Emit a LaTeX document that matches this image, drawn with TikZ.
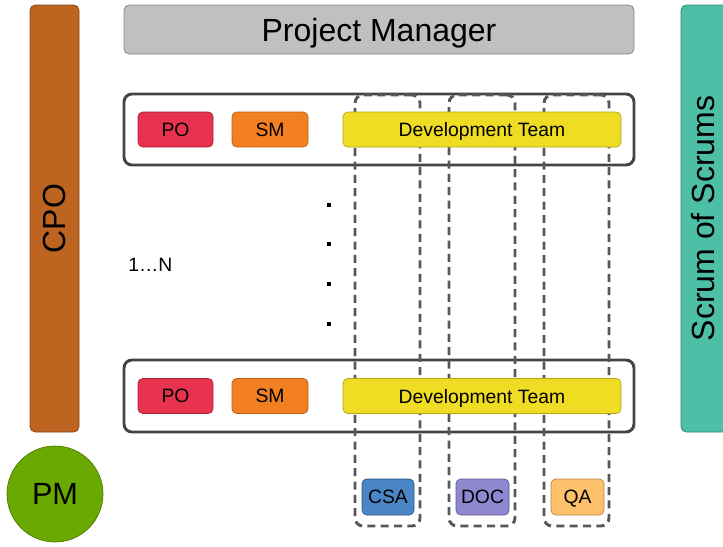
\documentclass[tikz,border=0pt]{standalone}
\usepackage{fontspec}
\setmainfont{Liberation Sans}
\usetikzlibrary{positioning}

\definecolor{cpoc}{HTML}{BD6520}
\definecolor{pmgrc}{HTML}{C0C0C0}
\definecolor{sosc}{HTML}{4CBFA6}
\definecolor{poc}{HTML}{E8334F}
\definecolor{smc}{HTML}{F28022}
\definecolor{devc}{HTML}{EEDD22}
\definecolor{csac}{HTML}{4A86C5}
\definecolor{docc}{HTML}{8E88D0}
\definecolor{qac}{HTML}{FDC06B}
\definecolor{pmc}{HTML}{6AAA00}
\definecolor{framec}{HTML}{444444}

\begin{document}
\begin{tikzpicture}[
  x=0.75pt, y=-0.75pt,
  sz/.style 2 args={minimum width=#1*0.75pt, minimum height=#2*0.75pt},
  bigbox/.style={rectangle, rounded corners=4pt, draw, line width=0.6pt,
                 inner sep=0pt, text depth=0pt, font=\fontsize{24}{28}\selectfont},
  role/.style={rectangle, rounded corners=3.5pt, draw, line width=0.5pt,
               inner sep=0pt, text depth=0pt, font=\fontsize{14.5}{17}\selectfont},
  team/.style={rectangle, rounded corners=6pt, draw=framec, line width=2.2pt,
               inner sep=0pt, sz={510}{71}},
  column/.style={rectangle, rounded corners=6pt, draw=framec!90,
                 line width=2.2pt, dash pattern=on 6pt off 4pt,
                 inner sep=0pt, sz={65}{431}},
  vlabel/.style={rotate=90, inner sep=0pt, font=\fontsize{24}{28}\selectfont},
  dot/.style={rectangle, fill=black, inner sep=0pt, minimum size=3.5pt}
]
\useasboundingbox (0,0) rectangle (723,546);
\clip (0,0) rectangle (723,546);

% side bars and head
\node[bigbox, fill=cpoc, draw=cpoc!70!black, sz={49}{427}] (cpo) at (54.5,218.5) {};
\node[vlabel] (cpot) at (cpo.center) {CPO};
\node[bigbox, fill=sosc, draw=sosc!70!black, sz={50}{427}] (sos) at (706,218.5) {};
\node[vlabel] (sost) at (703,218.5) {Scrum of Scrums};
\node[bigbox, fill=pmgrc, draw=pmgrc!70!black, sz={510}{49}] (pmgr) at (379,29.5) {Project Manager};

% scrum teams
\node[team] (t1) at (379,129.5) {};
\node[team, sz={510}{72}] (tn) at (379,396) {};

% component columns
\node[column] (c1) at (387.5,310.5) {};
\node[column, sz={66}{431}] (c2) at (482,310.5) {};
\node[column] (c3) at (576.5,310.5) {};

\node[role, fill=poc, draw=poc!70!black, sz={75}{35}] (po1) at (175.5,129.5) {PO};
\node[role, fill=smc, draw=smc!75!black, sz={76}{35}] (sm1) at (270,129.5) {SM};
\node[role, fill=devc, draw=devc!75!black, sz={278}{35}] (dev1) at (482,129.5) {Development Team};

\node[role, fill=poc, draw=poc!70!black, sz={75}{35}] (pon) at (175.5,396) {PO};
\node[role, fill=smc, draw=smc!75!black, sz={76}{35}] (smn) at (270,396) {SM};
\node[role, fill=devc, draw=devc!75!black, sz={278}{35}] (devn) at (482,396) {Development Team};

\foreach \y [count=\i] in {205,244,284,324}
  \node[dot] (d\i) at (329,\y) {};
\node[font=\fontsize{14.5}{17}\selectfont, anchor=west, inner sep=0pt] (count) at (128,265) {1\dots N};

% component roles
\node[role, fill=csac, draw=csac!65!black, sz={52}{36}] (csa) at (388,497) {CSA};
\node[role, fill=docc, draw=docc!65!black, sz={53}{36}] (doc) at (482.5,497) {DOC};
\node[role, fill=qac, draw=qac!70!black, sz={53}{36}] (qa) at (577.5,497) {QA};

\node[circle, fill=pmc, draw=pmc!70!black, line width=0.5pt, inner sep=0pt,
      text depth=0pt, minimum size=96*0.75pt, font=\fontsize{23}{27}\selectfont] (pm) at (55,494) {PM};
\end{tikzpicture}
\end{document}
